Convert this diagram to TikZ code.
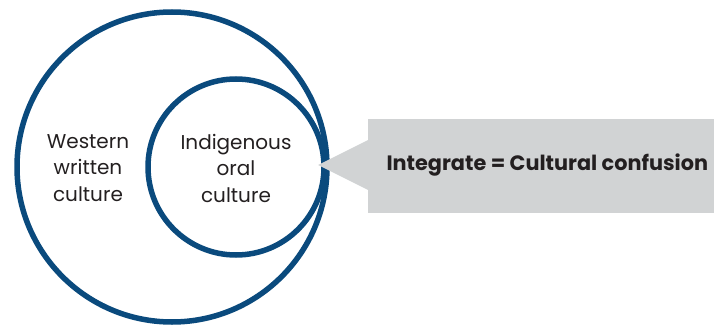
\documentclass[tikz,border=0pt]{standalone}
\usepackage{fontspec}
\setmainfont{Poppins}
\definecolor{ringblue}{HTML}{0A4A7D}
\definecolor{callgray}{HTML}{D1D3D4}
\definecolor{inktext}{HTML}{231F20}
\begin{document}
\begin{tikzpicture}[x=1pt,y=-1pt,
  ring/.style={draw=ringblue,line width=5.5pt},
  lbl/.style={align=center,font=\fontsize{20}{26.5}\selectfont,text=inktext},
  calltext/.style={font=\bfseries\fontsize{20.8}{24}\selectfont,anchor=west,text=inktext}]
\useasboundingbox (0,0) rectangle (714,326);
\draw[ring] (172,167) circle (155);
\draw[ring] (236,167) circle (88);
\node[lbl] (west) at (88,168) {Western\\written\\culture};
\node[lbl] (indig) at (236,168) {Indigenous\\oral\\culture};
\coordinate (tip) at (318,165);
\fill[callgray] (368,119) rectangle (714,213);
\fill[callgray] (tip) -- (368,140) -- (368,190) -- cycle;
\node[calltext] (ct) at (383,165) {Integrate = Cultural confusion};
\end{tikzpicture}
\end{document}
